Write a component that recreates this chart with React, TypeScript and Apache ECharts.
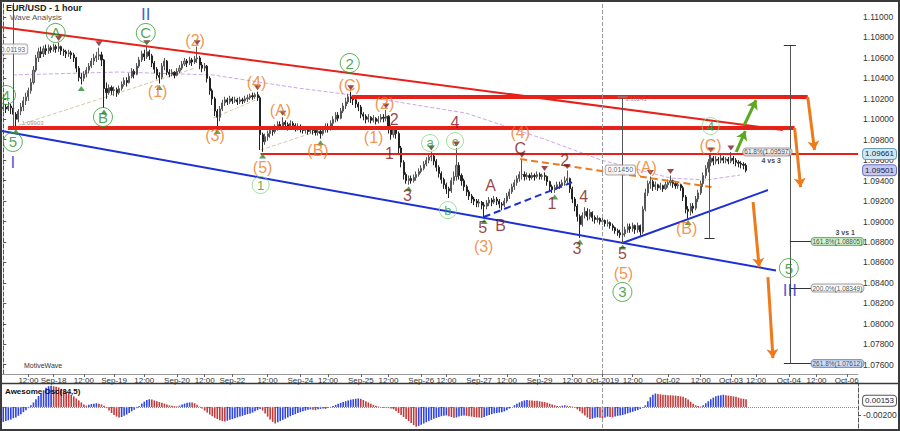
import React, { useEffect, useRef } from "react";
import * as echarts from "echarts";

const BAR_SLOTS = 340;
const FIRST_OPEN = 1.101;

const closes = [
  1.1012,1.1010,1.1013,1.1011,1.1005,1.1000,1.1008,1.1012,1.1018,1.1022,
  1.1028,1.1036,1.1048,1.1060,1.1066,1.1064,1.1069,1.1067,1.1070,1.1068,
  1.1071,1.1069,1.1071,1.1067,1.1066,1.1064,1.1065,1.1063,1.1060,1.1050,
  1.1041,1.1040,1.1044,1.1048,1.1052,1.1057,1.1060,1.1062,1.1063,1.1058,
  1.1030,1.1026,1.1031,1.1028,1.1029,1.1026,1.1030,1.1034,1.1038,1.1036,
  1.1042,1.1047,1.1044,1.1052,1.1058,1.1064,1.1061,1.1066,1.1062,1.1055,
  1.1049,1.1043,1.1041,1.1052,1.1057,1.1046,1.1044,1.1046,1.1043,1.1047,
  1.1050,1.1054,1.1057,1.1055,1.1058,1.1056,1.1059,1.1060,1.1053,1.1050,
  1.1052,1.1040,1.1028,1.1020,1.1008,1.1002,1.1010,1.1016,1.1019,1.1017,
  1.1020,1.1018,1.1019,1.1017,1.1019,1.1018,1.1020,1.1021,1.1023,1.1022,
  1.1024,1.1021,1.0985,1.0978,1.0983,1.0986,1.0989,1.0988,1.0992,1.0995,
  1.0993,1.0997,1.0995,1.0993,1.0996,1.0994,1.0992,1.0993,1.0991,1.0989,
  1.0990,1.0988,1.0990,1.0989,1.0987,1.0988,1.0986,1.0990,1.0993,1.0991,
  1.0996,1.1000,1.1004,1.1001,1.1008,1.1013,1.1017,1.1022,1.1020,1.1019,
  1.1015,1.1012,1.1005,1.1003,1.1000,1.1002,1.0999,1.1001,1.0998,1.1000,
  1.1002,1.1001,1.1003,1.0992,1.0985,1.0990,1.0986,1.0972,1.0958,1.0946,
  1.0940,1.0942,1.0940,1.0943,1.0946,1.0949,1.0952,1.0956,1.0960,1.0963,
  1.0964,1.0959,1.0953,1.0947,1.0941,1.0936,1.0932,1.0930,1.0940,1.0944,
  1.0955,1.0945,1.0940,1.0934,1.0929,1.0925,1.0922,1.0920,1.0918,1.0919,
  1.0916,1.0915,1.0918,1.0921,1.0919,1.0922,1.0920,1.0917,1.0916,1.0920,
  1.0925,1.0929,1.0934,1.0938,1.0942,1.0946,1.0946,1.0944,1.0945,1.0943,
  1.0945,1.0944,1.0946,1.0944,1.0945,1.0944,1.0939,1.0934,1.0931,1.0933,
  1.0936,1.0935,1.0938,1.0940,1.0942,1.0932,1.0922,1.0915,1.0905,1.0897,
  1.0906,1.0910,1.0905,1.0909,1.0904,1.0902,1.0903,1.0900,1.0901,1.0898,
  1.0899,1.0896,1.0894,1.0891,1.0889,1.0887,1.0888,1.0892,1.0895,1.0893,
  1.0896,1.0892,1.0896,1.0890,1.0912,1.0928,1.0937,1.0939,1.0934,1.0936,
  1.0933,1.0935,1.0932,1.0936,1.0938,1.0940,1.0937,1.0935,1.0936,1.0933,
  1.0924,1.0912,1.0910,1.0915,1.0913,1.0922,1.0928,1.0937,1.0945,1.0952,
  1.0958,1.0962,1.0959,1.0961,1.0960,1.0962,1.0960,1.0961,1.0959,1.0962,
  1.0960,1.0958,1.0957,1.0956,1.0955,1.0950,
];

const highs = [
  1.1016,1.1015,1.1017,1.1015,1.1013,1.1007,1.1010,1.1016,1.1022,1.1026,
  1.1031,1.1040,1.1052,1.1063,1.1070,1.1071,1.1072,1.1073,1.1073,1.1072,
  1.1074,1.1073,1.1075,1.1072,1.1069,1.1068,1.1068,1.1067,1.1065,1.1061,
  1.1052,1.1045,1.1047,1.1051,1.1055,1.1060,1.1064,1.1066,1.1070,1.1066,
  1.1059,1.1036,1.1034,1.1033,1.1032,1.1031,1.1033,1.1037,1.1041,1.1041,
  1.1045,1.1050,1.1049,1.1055,1.1061,1.1067,1.1068,1.1071,1.1068,1.1064,
  1.1057,1.1051,1.1046,1.1055,1.1060,1.1058,1.1049,1.1049,1.1047,1.1050,
  1.1053,1.1057,1.1060,1.1059,1.1061,1.1060,1.1062,1.1071,1.1062,1.1056,
  1.1055,1.1053,1.1042,1.1030,1.1022,1.1010,1.1013,1.1019,1.1022,1.1021,
  1.1023,1.1022,1.1022,1.1021,1.1022,1.1021,1.1023,1.1024,1.1025,1.1026,
  1.1026,1.1027,1.1023,1.0987,1.0986,1.0989,1.0992,1.0993,1.0995,1.0998,
  1.0998,1.1002,1.0999,1.0997,1.0999,1.0998,1.0996,1.0996,1.0995,1.0993,
  1.0993,1.0992,1.0993,1.0992,1.0991,1.0991,1.0990,1.0993,1.0996,1.0996,
  1.0999,1.1003,1.1007,1.1007,1.1011,1.1016,1.1021,1.1025,1.1027,1.1023,
  1.1021,1.1017,1.1014,1.1007,1.1005,1.1005,1.1003,1.1004,1.1002,1.1003,
  1.1005,1.1005,1.1009,1.1004,1.0994,1.0993,1.0992,1.0988,1.0974,1.0960,
  1.0948,1.0945,1.0945,1.0946,1.0949,1.0952,1.0955,1.0959,1.0963,1.0966,
  1.0968,1.0966,1.0961,1.0955,1.0949,1.0943,1.0938,1.0934,1.0943,1.0949,
  1.0972,1.0958,1.0947,1.0942,1.0936,1.0931,1.0927,1.0924,1.0922,1.0922,
  1.0920,1.0919,1.0921,1.0924,1.0923,1.0925,1.0924,1.0922,1.0919,1.0923,
  1.0928,1.0932,1.0937,1.0941,1.0945,1.0949,1.0961,1.0949,1.0948,1.0947,
  1.0948,1.0947,1.0949,1.0948,1.0947,1.0948,1.0945,1.0940,1.0936,1.0936,
  1.0939,1.0939,1.0941,1.0944,1.0950,1.0943,1.0934,1.0924,1.0917,1.0907,
  1.0909,1.0914,1.0913,1.0912,1.0910,1.0906,1.0906,1.0904,1.0904,1.0902,
  1.0902,1.0900,1.0898,1.0895,1.0893,1.0892,1.0891,1.0895,1.0898,1.0898,
  1.0899,1.0897,1.0899,1.0897,1.0915,1.0932,1.0940,1.0944,1.0941,1.0939,
  1.0937,1.0938,1.0936,1.0939,1.0941,1.0945,1.0941,1.0939,1.0939,1.0937,
  1.0935,1.0926,1.0915,1.0918,1.0918,1.0925,1.0931,1.0940,1.0948,1.0955,
  1.0961,1.0966,1.0964,1.0964,1.0963,1.0965,1.0964,1.0963,1.0963,1.0968,
  1.0964,1.0962,1.0960,1.0959,1.0958,1.0957,
];

const lows = [
  1.1008,1.1006,1.1008,1.1005,1.1000,1.0992,1.0997,1.1004,1.1008,1.1014,
  1.1018,1.1025,1.1034,1.1046,1.1056,1.1060,1.1061,1.1063,1.1064,1.1065,
  1.1066,1.1065,1.1066,1.1063,1.1062,1.1060,1.1061,1.1059,1.1056,1.1046,
  1.1037,1.1034,1.1037,1.1041,1.1045,1.1050,1.1053,1.1056,1.1058,1.1052,
  1.1011,1.1020,1.1024,1.1024,1.1023,1.1022,1.1024,1.1028,1.1032,1.1032,
  1.1035,1.1040,1.1040,1.1043,1.1050,1.1056,1.1057,1.1059,1.1058,1.1051,
  1.1045,1.1039,1.1035,1.1039,1.1048,1.1043,1.1041,1.1042,1.1040,1.1042,
  1.1045,1.1048,1.1052,1.1051,1.1053,1.1052,1.1054,1.1055,1.1049,1.1046,
  1.1047,1.1036,1.1024,1.1014,1.1003,1.0992,1.0998,1.1008,1.1013,1.1014,
  1.1015,1.1015,1.1016,1.1014,1.1015,1.1015,1.1016,1.1017,1.1019,1.1019,
  1.1020,1.1018,1.0970,1.0968,1.0975,1.0979,1.0982,1.0984,1.0986,1.0989,
  1.0990,1.0991,1.0990,1.0989,1.0991,1.0990,1.0988,1.0989,1.0987,1.0986,
  1.0986,1.0985,1.0986,1.0985,1.0984,1.0984,1.0981,1.0984,1.0987,1.0987,
  1.0989,1.0993,1.0997,1.0998,1.1000,1.1006,1.1010,1.1015,1.1016,1.1014,
  1.1011,1.1008,1.1001,1.0999,1.0996,1.0997,1.0996,1.0997,1.0995,1.0996,
  1.0997,1.0997,1.0998,1.0986,1.0980,1.0982,1.0981,1.0967,1.0953,1.0941,
  1.0937,1.0936,1.0937,1.0938,1.0940,1.0944,1.0947,1.0950,1.0954,1.0957,
  1.0959,1.0955,1.0949,1.0943,1.0937,1.0932,1.0927,1.0923,1.0928,1.0936,
  1.0940,1.0941,1.0935,1.0930,1.0925,1.0921,1.0918,1.0916,1.0914,1.0914,
  1.0912,1.0904,1.0912,1.0915,1.0915,1.0917,1.0916,1.0913,1.0911,1.0914,
  1.0918,1.0922,1.0927,1.0931,1.0935,1.0939,1.0941,1.0940,1.0941,1.0940,
  1.0941,1.0940,1.0942,1.0941,1.0941,1.0940,1.0935,1.0930,1.0928,1.0928,
  1.0931,1.0932,1.0933,1.0935,1.0937,1.0928,1.0918,1.0910,1.0900,1.0884,
  1.0895,1.0903,1.0901,1.0902,1.0900,1.0898,1.0899,1.0897,1.0897,1.0895,
  1.0895,1.0893,1.0891,1.0888,1.0886,1.0884,1.0879,1.0885,1.0889,1.0889,
  1.0890,1.0888,1.0889,1.0886,1.0888,1.0910,1.0925,1.0932,1.0930,1.0931,
  1.0930,1.0931,1.0929,1.0931,1.0933,1.0935,1.0933,1.0932,1.0932,1.0930,
  1.0920,1.0908,1.0903,1.0906,1.0908,1.0911,1.0919,1.0926,1.0934,1.0942,
  1.0948,1.0954,1.0955,1.0956,1.0956,1.0957,1.0957,1.0957,1.0956,1.0957,
  1.0956,1.0954,1.0953,1.0952,1.0951,1.0948,
];

const aoValues = [
  -0.0037,-0.0035,-0.0033,-0.0031,-0.0028,-0.0026,-0.0022,-0.0018,-0.0013,-0.0008,
  -0.0003,0.0004,0.0011,0.0019,0.0027,0.0034,0.0041,0.0047,0.0051,0.0052,
  0.0051,0.0050,0.0048,0.0045,0.0042,0.0038,0.0034,0.0030,0.0026,0.0021,
  0.0016,0.0011,0.0006,0.0003,0.0005,0.0007,0.0008,0.0009,0.0008,0.0006,
  0.0003,-0.0003,-0.0009,-0.0015,-0.0020,-0.0024,-0.0026,-0.0025,-0.0022,-0.0019,
  -0.0015,-0.0011,-0.0007,-0.0003,0.0002,0.0008,0.0013,0.0017,0.0019,0.0018,
  0.0016,0.0014,0.0012,0.0010,0.0008,0.0006,0.0004,0.0003,0.0002,0.0001,
  0.0003,0.0006,0.0008,0.0010,0.0011,0.0011,0.0009,0.0005,0.0001,-0.0004,
  -0.0009,-0.0014,-0.0019,-0.0023,-0.0027,-0.0030,-0.0033,-0.0035,-0.0036,-0.0034,
  -0.0032,-0.0030,-0.0028,-0.0026,-0.0024,-0.0022,-0.0020,-0.0018,-0.0016,-0.0014,
  -0.0011,-0.0008,-0.0005,-0.0009,-0.0016,-0.0024,-0.0031,-0.0037,-0.0041,-0.0038,
  -0.0035,-0.0032,-0.0029,-0.0026,-0.0023,-0.0020,-0.0018,-0.0015,-0.0013,-0.0011,
  -0.0009,-0.0007,-0.0006,-0.0007,-0.0008,-0.0006,-0.0005,-0.0004,-0.0005,-0.0003,
  -0.0001,0.0002,0.0005,0.0008,0.0010,0.0012,0.0014,0.0016,0.0018,0.0019,
  0.0020,0.0021,0.0020,0.0017,0.0014,0.0011,0.0008,0.0005,0.0003,0.0001,
  -0.0001,-0.0002,-0.0001,-0.0003,-0.0004,-0.0006,-0.0010,-0.0015,-0.0020,-0.0025,
  -0.0030,-0.0035,-0.0040,-0.0045,-0.0049,-0.0047,-0.0044,-0.0041,-0.0038,-0.0035,
  -0.0032,-0.0029,-0.0027,-0.0025,-0.0023,-0.0022,-0.0021,-0.0023,-0.0025,-0.0027,
  -0.0026,-0.0024,-0.0022,-0.0021,-0.0022,-0.0023,-0.0024,-0.0025,-0.0026,-0.0026,
  -0.0027,-0.0025,-0.0022,-0.0020,-0.0018,-0.0016,-0.0015,-0.0014,-0.0013,-0.0011,
  -0.0008,-0.0004,0.0000,0.0004,0.0008,0.0011,0.0014,0.0016,0.0017,0.0016,
  0.0016,0.0015,0.0015,0.0014,0.0013,0.0012,0.0010,0.0008,0.0006,0.0004,
  0.0002,0.0002,0.0003,0.0004,0.0003,0.0002,0.0001,-0.0002,-0.0006,-0.0011,
  -0.0016,-0.0021,-0.0026,-0.0030,-0.0029,-0.0027,-0.0026,-0.0027,-0.0028,-0.0026,
  -0.0024,-0.0025,-0.0026,-0.0024,-0.0022,-0.0021,-0.0020,-0.0018,-0.0016,-0.0014,
  -0.0012,-0.0010,-0.0008,-0.0005,-0.0002,0.0004,0.0014,0.0024,0.0030,0.0033,
  0.0032,0.0031,0.0030,0.0030,0.0029,0.0029,0.0028,0.0028,0.0027,0.0026,
  0.0025,0.0022,0.0018,0.0013,0.0008,0.0004,0.0002,0.0001,0.0004,0.0009,
  0.0014,0.0019,0.0023,0.0026,0.0028,0.0029,0.0030,0.0029,0.0028,0.0027,
  0.0026,0.0025,0.0023,0.0021,0.0020,0.0019,
];

const tickIdx = [10,20,32,44,56,69,80,91,105,118,129,142,153,166,176,189,200,213,226,238,250,264,277,289,299,312,323,335];
const tickText = ["12:00","Sep-18","12:00","Sep-19","12:00","Sep-20","12:00","Sep-22","12:00","Sep-24","12:00","Sep-25","12:00","Sep-26","12:00","Sep-27","12:00","Sep-29","12:00","Oct-2019","12:00","Oct-02","12:00","Oct-03","12:00","Oct-04","12:00","Oct-06"];
const oct1Idx = 238;

const priceTicks = [1.076,1.078,1.08,1.082,1.084,1.086,1.088,1.09,1.092,1.094,1.096,1.098,1.1,1.102,1.104,1.106,1.108,1.11];
const priceTags = [1.09661, 1.09501, 1.09437];
const aoTicks = [-0.002];
const aoTag = 0.00153;

// pivot markers [bar, price]
const peakMarks = [[22,1.1075],[38,1.107],[57,1.1071],[77,1.1071],[101,1.1027],[111,1.1002],[138,1.1027],[152,1.1009],[170,1.0968],[180,1.0972],[206,1.0961],[215,1.0948],[224,1.095],[257,1.0944],[265,1.0945],[281,1.0966],[289,1.0968]];
const lowMarks = [[5,1.0992],[31,1.1034],[40,1.1011],[62,1.1035],[85,1.0992],[103,1.0968],[126,1.0981],[161,1.0936],[191,1.0904],[219,1.0928],[229,1.0884],[246,1.0879],[272,1.0903]];

// wave labels [text, bar, price]
const greenWaves = [["4",1.1,1.10237],["5",3.8,1.09778],["A",20.8,1.10844],["B",39.6,1.10022],["C",56.6,1.10844],["2",137.6,1.1055],["3",245.9,1.08311],["5",312.0,1.08545]];
const minorWaves = [["1",102.2,1.09357],["a",169.5,1.09768],["c",179.4,1.09787],["b",176.6,1.09112],["4",280.9,1.09934]];
const romanWaves = [["I",3.8,1.09582],["II",56.6,1.11029],["III",312.4,1.0833]];
const orangeWaves = [["(2)",76.2,1.10775],["(1)",61.3,1.10267],["(3)",84.1,1.09846],["(4)",100.6,1.10355],["(A)",110.1,1.10081],["(5)",103.0,1.09533],["(B)",125.0,1.09699],["(C)",137.6,1.10335],["(1)",147.1,1.09826],["(2)",151.4,1.10159],["(4)",205.3,1.09875],["(3)",190.8,1.08751],["(5)",246.3,1.08496],["(A)",255.3,1.09533],["(B)",271.4,1.08927],["(C)",280.9,1.09748]];
const maroonWaves = [["2",155.3,1.09993],["1",153.4,1.0967],["3",160.5,1.09259],["4",179.4,1.09973],["5",190.4,1.08946],["A",193.5,1.09357],["B",197.5,1.08966],["C",205.3,1.09719],["2",223.0,1.09592],["1",217.9,1.09181],["4",230.5,1.0924],["3",227.8,1.08741],["5",245.9,1.08692]];

// trend lines [[bar, price], [bar, price]]
const channelTop = [[[-0.5,1.10899],[309.6,1.09895]]];
const thickLevels = [[[138.4,1.10218],[319.5,1.10218]],[[1.9,1.09914],[314.3,1.09914]]];
const thinLevel = [[[102.2,1.09661],[339.5,1.09661]]];
const blueLines = [[[-0.5,1.09885],[306.9,1.08521]],[[245.9,1.0879],[303.7,1.09308]]];
const blueDashed = [[[190.8,1.09044],[226.2,1.09386]]];
const orangeDashed = [[[205.3,1.09611],[281.3,1.09337]]];
const greenArrows = [[[291.1,1.0968],[294.7,1.09885]],[[294.3,1.09944],[299.0,1.10188]]];
const orangeArrows = [[[319.5,1.10218],[322.2,1.09699]],[[314.3,1.09914],[316.7,1.09337]],[[297.8,1.09191],[300.2,1.08555]],[[303.7,1.08457],[305.7,1.07665]]];
const measureLines = [[[3.8,1.11137],[3.8,1.09924]],[[245.9,1.10218],[245.9,1.0879]],[[280.5,1.0966],[280.5,1.08839]],[[312.4,1.10726],[312.4,1.07616]]];
const measureCaps = [[[278.5,1.08839],[282.5,1.08839]],[[310,1.10726],[314.8,1.10726]],[[310,1.07616],[314.8,1.07616]],[[312.4,1.08805],[321.0,1.08805]],[[312.4,1.08349],[321.0,1.08349]],[[312.4,1.07612],[321.0,1.07612]]];
const oct1Cap = [[[244,1.10218],[248,1.10218]]];
const slowAverage = [[3.8,1.10433],[45.9,1.10462],[83.3,1.10433],[116.8,1.10306],[144.3,1.10218],[183.7,1.10061],[215.9,1.09797],[237.5,1.09601],[265.1,1.09425],[279.2,1.09406],[292.7,1.09455]];
const tanGuides = [[[3.8,1.09924],[76.2,1.10501]],[[83.3,1.10012],[100.2,1.10188]],[[102.2,1.09699],[128.6,1.09914]]];

// info boxes [text, bar, price]
const fibBoxes = [["161.8%(1.08805)",321.0,1.08805,"#c9efc4","#5a9a5a"],["200.0%(1.08349)",321.0,1.08349,"#ffffff","#888888"],["261.8%(1.07612)",321.0,1.07612,"#c6d6f2","#6a7ab0"],["61.8%(1.09597)",293.9,1.0968,"#eeeeee","#888888"]];
const measureBoxes = [["0.01193",3.8,1.10687],["0.01450",245.1,1.09504]];
const notes = [["4 vs 3",305.0,1.09601],["3 vs 1",334.4,1.08888]];
const tinyNotes = [["1.10241",251.3,1.10198],["1.09903",11.7,1.09963]];

const FONT = "'Liberation Sans', Arial, sans-serif";
const RED = "#e8201a";
const BLUE = "#1d2fd6";
const ORANGE = "#ee7a1c";
const GREEN_ARROW = "#5aa823";
const AO_UP = "#2f44e0";
const AO_DOWN = "#c23b3b";

function segSeries(segs: any[], lineStyle: any, extra: any = {}) {
  return {
    type: "lines", coordinateSystem: "cartesian2d", xAxisIndex: 2, yAxisIndex: 0,
    polyline: false, silent: true, symbol: "none", z: 4,
    lineStyle: { opacity: 1, ...lineStyle },
    data: segs.map((s: any) => ({ coords: s })),
    ...extra,
  };
}

function labelSeries(items: any[], label: any, extra: any = {}) {
  return {
    type: "scatter", xAxisIndex: 2, yAxisIndex: 0, silent: true, z: 10,
    symbolSize: 0,
    data: items.map((it: any) => ({ name: it[0], value: [it[1], it[2]] })),
    label: { show: true, position: "inside", formatter: "{b}", fontFamily: FONT, ...label },
    ...extra,
  };
}

export default function App() {
  const ref = useRef<HTMLDivElement>(null);
  useEffect(() => {
    document.body.style.margin = "0";
    const chart = echarts.init(ref.current as HTMLDivElement, null, { renderer: "svg" });
    const cats = Array.from({ length: BAR_SLOTS }, (_, i) => String(i));
    const tickSet = new Map<number, string>();
    tickIdx.forEach((t, i) => tickSet.set(t, tickText[i]));
    const candles = closes.map((c, i) => {
      const o = i === 0 ? FIRST_OPEN : closes[i - 1];
      return [o, c, Math.min(lows[i], o, c), Math.max(highs[i], o, c)];
    });
    const aoData = aoValues.map((v, i) => ({
      value: v,
      itemStyle: { color: i === 0 || v > aoValues[i - 1] ? AO_UP : AO_DOWN },
    }));
    const tagStyle = (bg: string, bd: string) => ({
      backgroundColor: bg, borderColor: bd, borderWidth: 1, borderRadius: 3,
      padding: [1, 2], fontSize: 8, color: "#223", fontFamily: FONT,
    });

    const option: any = {
      animation: false,
      backgroundColor: "#ffffff",
      textStyle: { fontFamily: FONT },
      grid: [
        { left: 2, right: 34, top: 3, height: 371 },
        { left: 2, right: 34, top: 384, height: 44 },
      ],
      xAxis: [
        {
          type: "category", gridIndex: 0, data: cats, boundaryGap: true,
          axisLine: { show: true, lineStyle: { color: "#999" } },
          axisTick: { show: true, interval: (i: number) => tickSet.has(i), alignWithLabel: true, length: 3, lineStyle: { color: "#666" } },
          axisLabel: {
            show: true, interval: (i: number) => tickSet.has(i),
            formatter: (_v: string, i: number) => tickSet.get(i) || "",
            fontSize: 8, color: "#333", margin: 2,
          },
          splitLine: { show: false },
        },
        {
          type: "category", gridIndex: 1, data: cats, boundaryGap: true,
          axisLine: { show: false }, axisTick: { show: false }, axisLabel: { show: false },
          splitLine: { show: false },
        },
        {
          type: "value", gridIndex: 0, min: -0.5, max: BAR_SLOTS - 0.5, show: false,
          splitLine: { show: false },
        },
      ],
      yAxis: [
        {
          type: "value", gridIndex: 0, position: "right", min: 1.07509, max: 1.11137,
          splitLine: { show: false },
          axisLine: { show: true, lineStyle: { color: "#555", type: "dashed" } },
          axisTick: { show: true, customValues: priceTicks, length: 3, lineStyle: { color: "#555" } },
          axisLabel: {
            customValues: [...priceTicks, ...priceTags],
            fontSize: 8.5, color: "#333", margin: 5,
            formatter: (v: number) => {
              const s = v.toFixed(5);
              const k = priceTags.findIndex((t) => Math.abs(t - v) < 1e-7);
              return k >= 0 ? `{t${k}|${s}}` : s;
            },
            rich: {
              t0: tagStyle("#cde9f7", "#6a9ab8"),
              t1: tagStyle("#c6c8f2", "#6a6ec0"),
              t2: tagStyle("#ffffff", "#777777"),
            },
          },
        },
        {
          type: "value", gridIndex: 1, position: "right", min: -0.005209, max: 0.005653,
          splitLine: { show: false },
          axisLine: { show: true, lineStyle: { color: "#555", type: "dashed" } },
          axisTick: { show: true, customValues: aoTicks, length: 3, lineStyle: { color: "#555" } },
          axisLabel: {
            customValues: [aoTag, ...aoTicks],
            fontSize: 8.5, color: "#333", margin: 5,
            formatter: (v: number) => (Math.abs(v - aoTag) < 1e-9 ? `{t|${v.toFixed(5)}}` : v.toFixed(5)),
            rich: { t: tagStyle("#ffffff", "#555555") },
          },
        },
      ],
      graphic: [
        { type: "rect", shape: { x: 1, y: 1, width: 898, height: 429 }, style: { fill: "none", stroke: "#3a3a3a", lineWidth: 2 }, z: 100 },
        { type: "line", shape: { x1: 0, y1: 383.5, x2: 900, y2: 383.5 }, style: { stroke: "#3a3a3a", lineWidth: 1.5 }, z: 100 },
        { type: "text", x: 6, y: 3, style: { text: "EUR/USD - 1 hour", font: `bold 9px ${FONT}`, fill: "#222" }, z: 100 },
        { type: "text", x: 10, y: 13, style: { text: "Wave Analysis", font: `8px ${FONT}`, fill: "#555" }, z: 100 },
        { type: "text", x: 24, y: 362, style: { text: "MotiveWave", font: `7px ${FONT}`, fill: "#333" }, z: 100 },
        { type: "text", x: 5, y: 387, style: { text: "Awesome Osc(34,5)", font: `bold 8px ${FONT}`, fill: "#111" }, z: 100 },
      ],
      series: [
        {
          type: "candlestick", xAxisIndex: 0, yAxisIndex: 0, data: candles, barWidth: 1.6, silent: true, z: 3,
          itemStyle: { color: "#9a9a9a", color0: "#222222", borderColor: "#555555", borderColor0: "#222222", borderWidth: 1 },
          markLine: {
            silent: true, symbol: "none", label: { show: false },
            lineStyle: { color: "#9a9a9a", type: "dashed", width: 1 },
            data: [{ xAxis: String(oct1Idx) }],
          },
        },
        segSeries(tanGuides, { color: "#d9c9a3", width: 1, type: "dashed" }, { z: 2 }),
        {
          type: "lines", coordinateSystem: "cartesian2d", xAxisIndex: 2, yAxisIndex: 0, polyline: true,
          silent: true, symbol: "none", z: 2,
          lineStyle: { color: "#c9a6e8", width: 1, type: "dashed", opacity: 1 },
          data: [{ coords: slowAverage }],
        },
        segSeries(channelTop, { color: RED, width: 2 }),
        segSeries(thickLevels, { color: RED, width: 4 }),
        segSeries(thinLevel, { color: RED, width: 2 }),
        segSeries(blueLines, { color: BLUE, width: 2 }),
        segSeries(blueDashed, { color: BLUE, width: 2, type: [7, 4] }),
        segSeries(orangeDashed, { color: ORANGE, width: 2, type: [7, 4] }),
        segSeries(greenArrows, { color: GREEN_ARROW, width: 3 }, { symbol: ["none", "arrow"], symbolSize: 9, z: 6 }),
        segSeries(orangeArrows, { color: ORANGE, width: 3 }, { symbol: ["none", "arrow"], symbolSize: 9, z: 6 }),
        segSeries(measureLines, { color: "#555", width: 1 }),
        segSeries(measureCaps, { color: "#333", width: 1 }),
        segSeries(oct1Cap, { color: "#b06060", width: 2 }),
        {
          type: "scatter", xAxisIndex: 2, yAxisIndex: 0, silent: true, z: 7,
          symbol: "triangle", symbolSize: [7, 5], symbolRotate: 180, symbolOffset: [0, -4],
          itemStyle: { color: "#7a1f1f" }, data: peakMarks,
        },
        {
          type: "scatter", xAxisIndex: 2, yAxisIndex: 0, silent: true, z: 7,
          symbol: "triangle", symbolSize: [7, 5], symbolOffset: [0, 4],
          itemStyle: { color: "#2e8b2e" }, data: lowMarks,
        },
        labelSeries(greenWaves, { color: "#1f8f1f", fontSize: 15 }, {
          symbol: "circle", symbolSize: 19,
          itemStyle: { color: "rgba(255,255,255,0)", borderColor: "#2e9e2e", borderWidth: 1 },
        }),
        labelSeries(minorWaves, { color: "#2aa02a", fontSize: 13 }, {
          symbol: "circle", symbolSize: 17,
          itemStyle: { color: "rgba(255,255,255,0)", borderColor: "#86d886", borderWidth: 1 },
        }),
        labelSeries(romanWaves, { color: "#1a2fd0", fontSize: 17 }),
        labelSeries(orangeWaves, { color: ORANGE, fontSize: 16 }),
        labelSeries(maroonWaves, { color: "#7b1616", fontSize: 16 }),
        {
          type: "scatter", xAxisIndex: 2, yAxisIndex: 0, silent: true, z: 9, symbolSize: 0,
          data: fibBoxes.map((b: any) => ({
            name: b[0], value: [b[1], b[2]],
            label: { backgroundColor: b[3], borderColor: b[4] },
          })),
          label: {
            show: true, position: "right", distance: 0, formatter: "{b}", fontSize: 6.5, color: "#222",
            borderWidth: 1, borderRadius: 3, padding: [0, 1], fontFamily: FONT,
          },
        },
        labelSeries(measureBoxes, { fontSize: 7, color: "#333", backgroundColor: "#ffffff", borderColor: "#999", borderWidth: 1, borderRadius: 2, padding: [1, 2] }, { z: 9 }),
        labelSeries(notes, { fontSize: 7, color: "#111", fontWeight: "bold" }),
        labelSeries(tinyNotes, { fontSize: 6, color: "#777" }),
        {
          type: "bar", xAxisIndex: 1, yAxisIndex: 1, data: aoData, barWidth: 1.6, silent: true,
          markLine: {
            silent: true, symbol: "none", label: { show: false },
            data: [
              { xAxis: String(oct1Idx), lineStyle: { color: "#9a9a9a", type: "dashed", width: 1 } },
              { yAxis: 0, lineStyle: { color: "#888", type: "dotted", width: 1 } },
            ],
          },
        },
      ],
    };
    chart.setOption(option);
    return () => chart.dispose();
  }, []);
  return <div ref={ref} style={{ width: 900, height: 431, position: "fixed", left: 0, top: 0 }} />;
}
